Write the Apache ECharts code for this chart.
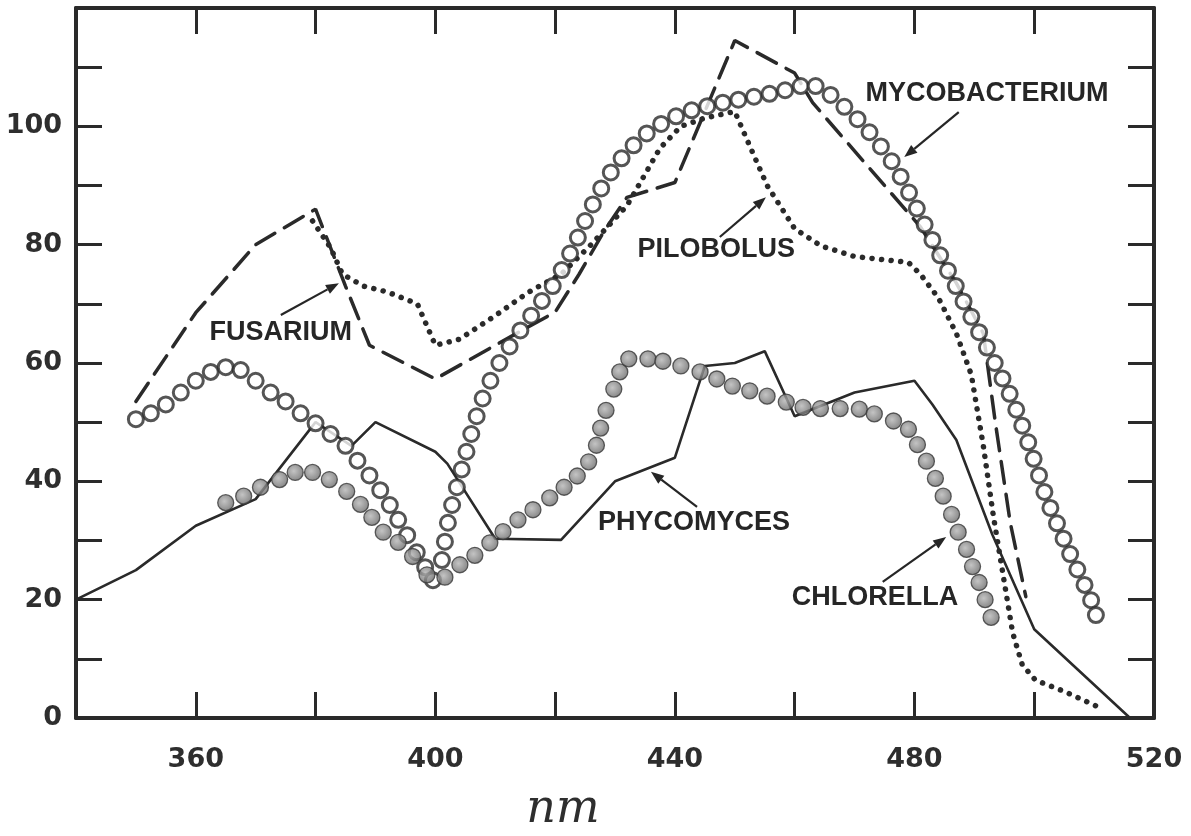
<!DOCTYPE html>
<html>
<head>
<meta charset="utf-8">
<script src="https://cdn.jsdelivr.net/npm/echarts@6/dist/echarts.min.js"></script>
<style>
html,body{margin:0;padding:0;background:#fff;overflow:hidden;}
#chart{width:1191px;height:836px;}
</style>
</head>
<body>
<div id="chart"></div>
<script>
// ---- data (wavelength nm, relative response) ----
const fusarium = [[350,53.5],[360,68.5],[370,80],[380,86],[385,73],[389,63],[400,57.3],[410,63],[420,68.6],[424,75],[428,82],[432,88],[440,90.5],[450,114.5],[460,109],[463,104],[481,83],[487,73.5],[491.5,65],[493.5,50],[496,33],[498.6,20.5]];
const pilobolus = [[379.5,84],[382.5,79.5],[384.5,75],[388,73],[392,72],[397,70],[400,63],[404,64],[410,68],[415.6,72],[421,75],[426,80],[432,86.6],[437.5,96.3],[441,100],[445,101.4],[450,102.5],[451.5,99],[455.4,90],[460,82.7],[464.4,79.8],[470,78],[479,77],[481,75],[484,71],[487,65],[489.5,58],[491.5,46],[493.2,34],[496.4,14.4],[498,9],[500.2,6.4],[505,4.5],[510.4,2]];
const phycomyces = [[340,20],[350,25],[360,32.5],[370,37],[380,50],[386,46],[390,50],[400,45],[402,43],[410,30.3],[421,30.1],[430,40],[440,44],[445,59.5],[450,60],[455,62],[460,51],[470,55],[480,57],[483,53],[487,47],[493,31],[500,15],[516,0]];
const mycobacterium = [[350,50.5],[352.5,51.5],[355,53],[357.5,55],[360,57],[362.5,58.5],[365,59.3],[367.5,58.8],[370,57],[372.5,55],[375,53.5],[377.5,51.5],[380,49.8],[382.5,48],[385,46],[387,43.5],[389,41],[390.8,38.5],[392.4,36],[393.8,33.5],[395.3,30.9],[396.9,28],[398.3,25.5],[399.6,23.3],[401.1,26.7],[401.6,29.8],[402.1,33],[402.8,36],[403.6,39],[404.4,42],[405.2,45],[406,48],[406.9,51],[407.9,54],[409.2,57],[410.7,60],[412.4,62.8],[414.2,65.5],[416,68],[417.8,70.5],[419.6,73],[421.1,75.7],[422.5,78.5],[423.8,81.2],[425,84],[426.3,86.8],[427.7,89.5],[429.3,92.2],[431.1,94.6],[433.1,96.8],[435.3,98.8],[437.7,100.4],[440.2,101.7],[442.8,102.7],[445.4,103.4],[448,104],[450.6,104.5],[453.2,105],[455.8,105.5],[458.4,106.1],[461,106.8],[463.5,106.8],[466,105.3],[468.3,103.3],[470.5,101.2],[472.5,99],[474.4,96.6],[476.2,94.1],[477.7,91.5],[479.1,88.8],[480.4,86.1],[481.7,83.4],[483,80.8],[484.3,78.2],[485.6,75.6],[486.9,73],[488.2,70.4],[489.5,67.8],[490.8,65.2],[492.1,62.6],[493.4,60],[494.7,57.4],[495.9,54.8],[497,52.1],[498,49.4],[499,46.6],[499.9,43.8],[500.8,41],[501.7,38.2],[502.7,35.5],[503.8,32.9],[504.9,30.3],[506,27.7],[507.2,25.1],[508.4,22.5],[509.5,19.9],[510.3,17.4]];
const chlorella = [[365,36.4],[368,37.5],[370.8,39],[374,40.3],[376.6,41.5],[379.5,41.5],[382.3,40.3],[385.2,38.3],[387.5,36.1],[389.4,33.9],[391.3,31.4],[393.8,29.7],[396.2,27.3],[398.6,24.2],[401.6,23.8],[404.1,25.9],[406.6,27.5],[409.1,29.6],[411.3,31.5],[413.8,33.5],[416.3,35.2],[419.1,37.2],[421.5,39],[423.7,40.9],[425.6,43.3],[426.9,46.1],[427.6,49],[428.5,52],[429.8,55.6],[430.8,58.5],[432.3,60.7],[435.5,60.7],[438,60.3],[441,59.5],[444.2,58.5],[447,57.3],[449.6,56.1],[452.5,55.3],[455.4,54.4],[458.6,53.4],[461.4,52.5],[464.3,52.3],[467.6,52.3],[470.8,52.2],[473.3,51.4],[476.5,50.2],[479,48.8],[480.5,46.2],[482,43.4],[483.5,40.5],[484.8,37.5],[486.2,34.4],[487.3,31.4],[488.7,28.5],[489.7,25.6],[490.8,22.9],[491.8,20],[492.8,17]];

// curve labels: text, label centre, arrow start, arrow tip (data units)
const labelNames = ['FUSARIUM','PILOBOLUS','MYCOBACTERIUM','PHYCOMYCES','CHLORELLA'];
const labelAt = [[374.2,65.2],[446.9,79.1],[492.1,105.6],[443.2,33.1],[473.4,20.3]];
const arrowFrom = [[374.2,68.1],[447.5,81.3],[487.4,102.4],[443.7,35.7],[474.7,23.0]];
const arrowTo = [[383.9,73.5],[455.2,88.0],[478.3,94.8],[436.0,41.6],[485.3,30.6]];
const xAxisTitle = 'nm';

const xMin = 340, xMax = 520, xStep = 20;
const yMin = 0, yMax = 120, yStep = 10;
const xLabelValues = [360,400,440,480,520];
const yLabelValues = [0,20,40,60,80,100];

const ink = '#2a2a2a';
const chart = echarts.init(document.getElementById('chart'), null, {renderer:'canvas'});
const tickFont = {fontFamily:'DejaVu Sans', fontWeight:'bold', fontSize:27, color:'#2e2e2e'};
function axisBase(){
  return {
    axisLine:{show:true, onZero:false, lineStyle:{color:ink, width:4}},
    axisTick:{show:true, inside:true, length:26, lineStyle:{color:ink, width:3}},
    splitLine:{show:false}
  };
}
chart.setOption({
  animation:false,
  backgroundColor:'#fff',
  grid:{left:76, right:37, top:8, bottom:118, containLabel:false},
  xAxis:[
    Object.assign({type:'value', position:'bottom', min:xMin, max:xMax, interval:xStep,
      axisLabel:Object.assign({margin:28, formatter:v => xLabelValues.includes(v) ? String(v) : ''}, tickFont)}, axisBase()),
    Object.assign({type:'value', position:'top', min:xMin, max:xMax, interval:xStep,
      axisLabel:{show:false}}, axisBase())
  ],
  yAxis:[
    Object.assign({type:'value', position:'left', min:yMin, max:yMax, interval:yStep,
      axisLabel:Object.assign({margin:14, formatter:v => yLabelValues.includes(v) ? String(v) : ''}, tickFont)}, axisBase()),
    Object.assign({type:'value', position:'right', min:yMin, max:yMax, interval:yStep,
      axisLabel:{show:false}}, axisBase())
  ],
  series:[
    {name:'Phycomyces', type:'line', data:phycomyces, showSymbol:false, lineStyle:{color:ink, width:2.6}, z:2},
    {name:'Fusarium', type:'line', data:fusarium, showSymbol:false, lineStyle:{color:ink, width:3.5, type:[22,11], cap:'round'}, z:2},
    {name:'Pilobolus', type:'line', data:pilobolus, showSymbol:false, lineStyle:{color:ink, width:5.5, type:[0.1,9.5], cap:'round'}, z:2},
    {name:'Mycobacterium', type:'scatter', data:mycobacterium, symbol:'circle', symbolSize:15,
      itemStyle:{color:'#fff', borderColor:ink, borderWidth:3}, z:4},
    {name:'Chlorella', type:'scatter', data:chlorella, symbol:'circle', symbolSize:16,
      itemStyle:{color:{type:'radial', x:0.42, y:0.42, r:0.7, colorStops:[{offset:0,color:'#b5b5b5'},{offset:1,color:'#595959'}]}, borderColor:'#383838', borderWidth:1.3}, z:5}
  ]
});

function buildGraphics(){
  const g = [];
  labelNames.forEach((name,i) => {
    const c = chart.convertToPixel({gridIndex:0}, labelAt[i]);
    const a = chart.convertToPixel({gridIndex:0}, arrowFrom[i]);
    const b = chart.convertToPixel({gridIndex:0}, arrowTo[i]);
    g.push({type:'text', x:c[0], y:c[1], style:{text:name, fill:'#262626', font:'bold 27px "Liberation Sans", Arial, sans-serif', textAlign:'center', textVerticalAlign:'middle'}, z:10});
    const dx = b[0]-a[0], dy = b[1]-a[1], L = Math.hypot(dx,dy), ux = dx/L, uy = dy/L;
    const hl = 13, hw = 5;
    const bx = b[0]-ux*hl, by = b[1]-uy*hl;
    g.push({type:'line', shape:{x1:a[0], y1:a[1], x2:bx, y2:by}, style:{stroke:'#262626', lineWidth:2.2}, z:10});
    g.push({type:'polygon', shape:{points:[[b[0],b[1]],[bx-uy*hw,by+ux*hw],[bx+uy*hw,by-ux*hw]]}, style:{fill:'#262626'}, z:10});
  });
  const mid = chart.convertToPixel({gridIndex:0}, [421.3, 0]);
  g.push({type:'text', x:mid[0], y:mid[1] + 92,
    style:{text:xAxisTitle, fill:'#2e2e2e', font:'italic 46px "DejaVu Serif", serif', textAlign:'center', textVerticalAlign:'middle'}, z:10});
  chart.setOption({graphic:g});
}
buildGraphics();
</script>
</body>
</html>
